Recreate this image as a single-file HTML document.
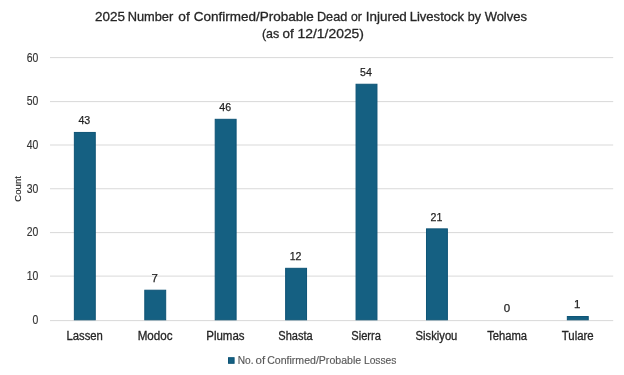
<!DOCTYPE html>
<html><head><meta charset="utf-8"><style>
html,body{margin:0;padding:0;background:#fff;}
svg{display:block;will-change:transform;}
text{font-family:"Liberation Sans",sans-serif;}
.title{font-size:13.2px;fill:#262626;stroke:#262626;stroke-width:0.3px;}
.tick{font-size:12.0px;fill:#333333;stroke:#333333;stroke-width:0.15px;}
.dl{font-size:11.5px;fill:#1f1f1f;stroke:#1f1f1f;stroke-width:0.25px;}
.cat{font-size:12px;fill:#262626;stroke:#262626;stroke-width:0.3px;}
.leg{font-size:10.5px;fill:#595959;stroke:#595959;stroke-width:0.15px;}
.ax{font-size:9.8px;fill:#262626;stroke:#262626;stroke-width:0.15px;}
</style></head><body>
<svg width="624" height="375" viewBox="0 0 624 375">
<rect width="624" height="375" fill="#fff"/>
<text x="95.14" y="21.3" class="title" textLength="29.89" lengthAdjust="spacingAndGlyphs">2025</text>
<text x="127.66" y="21.3" class="title" textLength="45.59" lengthAdjust="spacingAndGlyphs">Number</text>
<text x="178.39" y="21.3" class="title" textLength="11.43" lengthAdjust="spacingAndGlyphs">of</text>
<text x="193.82" y="21.3" class="title" textLength="119.90" lengthAdjust="spacingAndGlyphs">Confirmed/Probable</text>
<text x="316.95" y="21.3" class="title" textLength="30.33" lengthAdjust="spacingAndGlyphs">Dead</text>
<text x="351.05" y="21.3" class="title" textLength="10.89" lengthAdjust="spacingAndGlyphs">or</text>
<text x="365.78" y="21.3" class="title" textLength="41.08" lengthAdjust="spacingAndGlyphs">Injured</text>
<text x="409.66" y="21.3" class="title" textLength="54.47" lengthAdjust="spacingAndGlyphs">Livestock</text>
<text x="467.77" y="21.3" class="title" textLength="13.26" lengthAdjust="spacingAndGlyphs">by</text>
<text x="484.63" y="21.3" class="title" textLength="42.31" lengthAdjust="spacingAndGlyphs">Wolves</text>
<text x="261.95" y="38.3" class="title" textLength="17.31" lengthAdjust="spacingAndGlyphs">(as</text>
<text x="282.63" y="38.3" class="title" textLength="11.19" lengthAdjust="spacingAndGlyphs">of</text>
<text x="297.50" y="38.3" class="title" textLength="66.48" lengthAdjust="spacingAndGlyphs">12/1/2025)</text>
<text transform="translate(20.9,188.9) rotate(-90)" class="ax" text-anchor="middle" textLength="25.6" lengthAdjust="spacingAndGlyphs">Count</text>
<rect x="50" y="57.10" width="563.2" height="1" fill="#d9d9d9"/>
<rect x="50" y="101.10" width="563.2" height="1" fill="#d9d9d9"/>
<rect x="50" y="144.50" width="563.2" height="1" fill="#d9d9d9"/>
<rect x="50" y="188.25" width="563.2" height="1" fill="#d9d9d9"/>
<rect x="50" y="232.10" width="563.2" height="1" fill="#d9d9d9"/>
<rect x="50" y="275.60" width="563.2" height="1" fill="#d9d9d9"/>
<rect x="50" y="320.10" width="563.2" height="1" fill="#d9d9d9"/>
<text x="38.3" y="61.60" class="tick" text-anchor="end" textLength="11.6" lengthAdjust="spacingAndGlyphs">60</text>
<text x="38.3" y="105.26" class="tick" text-anchor="end" textLength="11.6" lengthAdjust="spacingAndGlyphs">50</text>
<text x="38.3" y="148.92" class="tick" text-anchor="end" textLength="11.6" lengthAdjust="spacingAndGlyphs">40</text>
<text x="38.3" y="192.58" class="tick" text-anchor="end" textLength="11.6" lengthAdjust="spacingAndGlyphs">30</text>
<text x="38.3" y="236.24" class="tick" text-anchor="end" textLength="11.6" lengthAdjust="spacingAndGlyphs">20</text>
<text x="38.3" y="279.90" class="tick" text-anchor="end" textLength="11.6" lengthAdjust="spacingAndGlyphs">10</text>
<text x="38.3" y="323.56" class="tick" text-anchor="end" textLength="5.8" lengthAdjust="spacingAndGlyphs">0</text>
<rect x="74.36" y="132.45" width="20.90" height="187.35" fill="#156082" stroke="#0e5476" stroke-width="1"/>
<text x="84.31" y="124" class="dl" text-anchor="middle" textLength="11.8" lengthAdjust="spacingAndGlyphs">43</text>
<rect x="144.79" y="290.22" width="20.90" height="29.58" fill="#156082" stroke="#0e5476" stroke-width="1"/>
<text x="154.74" y="282" class="dl" text-anchor="middle">7</text>
<rect x="215.21" y="119.31" width="20.90" height="200.49" fill="#156082" stroke="#0e5476" stroke-width="1"/>
<text x="225.16" y="111" class="dl" text-anchor="middle" textLength="11.8" lengthAdjust="spacingAndGlyphs">46</text>
<rect x="285.64" y="268.31" width="20.90" height="51.49" fill="#156082" stroke="#0e5476" stroke-width="1"/>
<text x="295.59" y="260" class="dl" text-anchor="middle" textLength="11.8" lengthAdjust="spacingAndGlyphs">12</text>
<rect x="356.06" y="84.25" width="20.90" height="235.55" fill="#156082" stroke="#0e5476" stroke-width="1"/>
<text x="366.01" y="76" class="dl" text-anchor="middle" textLength="11.8" lengthAdjust="spacingAndGlyphs">54</text>
<rect x="426.49" y="228.87" width="20.90" height="90.93" fill="#156082" stroke="#0e5476" stroke-width="1"/>
<text x="436.44" y="221" class="dl" text-anchor="middle" textLength="11.8" lengthAdjust="spacingAndGlyphs">21</text>
<text x="506.96" y="312" class="dl" text-anchor="middle">0</text>
<rect x="567.34" y="316.52" width="20.90" height="3.28" fill="#156082" stroke="#0e5476" stroke-width="1"/>
<text x="577.29" y="308" class="dl" text-anchor="middle">1</text>
<text x="66.43" y="339.9" class="cat" textLength="36.49" lengthAdjust="spacingAndGlyphs">Lassen</text>
<text x="137.71" y="339.9" class="cat" textLength="34.86" lengthAdjust="spacingAndGlyphs">Modoc</text>
<text x="206.26" y="339.9" class="cat" textLength="38.29" lengthAdjust="spacingAndGlyphs">Plumas</text>
<text x="278.34" y="339.9" class="cat" textLength="34.37" lengthAdjust="spacingAndGlyphs">Shasta</text>
<text x="351.32" y="339.9" class="cat" textLength="29.64" lengthAdjust="spacingAndGlyphs">Sierra</text>
<text x="415.59" y="339.9" class="cat" textLength="41.78" lengthAdjust="spacingAndGlyphs">Siskiyou</text>
<text x="487.16" y="339.9" class="cat" textLength="39.97" lengthAdjust="spacingAndGlyphs">Tehama</text>
<text x="561.81" y="339.9" class="cat" textLength="31.88" lengthAdjust="spacingAndGlyphs">Tulare</text>
<rect x="228.5" y="357.7" width="5.6" height="5.6" fill="#156082" stroke="#0e5476" stroke-width="1"/>
<text x="237.69" y="363.7" class="leg" textLength="15.80" lengthAdjust="spacingAndGlyphs">No.</text>
<text x="255.62" y="363.7" class="leg" textLength="9.55" lengthAdjust="spacingAndGlyphs">of</text>
<text x="267.20" y="363.7" class="leg" textLength="93.92" lengthAdjust="spacingAndGlyphs">Confirmed/Probable</text>
<text x="363.98" y="363.7" class="leg" textLength="32.47" lengthAdjust="spacingAndGlyphs">Losses</text>
</svg>
</body></html>
